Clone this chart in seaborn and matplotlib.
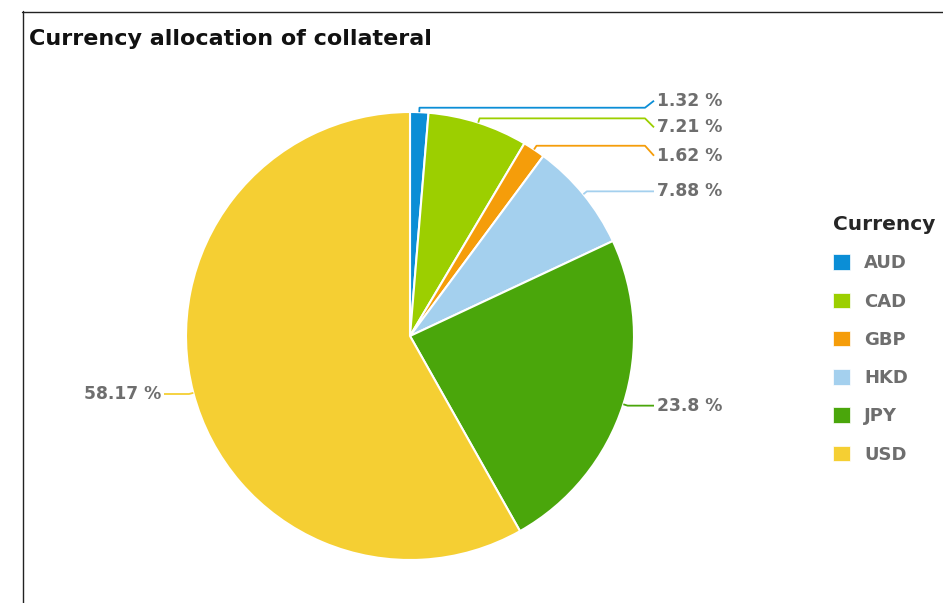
import matplotlib
matplotlib.use("Agg")
import matplotlib.pyplot as plt
from matplotlib.patches import Patch
import numpy as np
import seaborn as sns

currencies = ["AUD", "CAD", "GBP", "HKD", "JPY", "USD"]
shares = [1.32, 7.21, 1.62, 7.88, 23.8, 58.17]
colors = ["#0b8ed6", "#9ccf00", "#f59d0a", "#a4d0ee", "#4aa60b", "#f5cf33"]
title = "Currency allocation of collateral"
legend_title = "Currency"

sns.set_theme(style="white")
plt.rcParams["font.family"] = ["DejaVu Sans"]

W, H = 943, 603
fig = plt.figure(figsize=(W / 100, H / 100), dpi=100)
ax = fig.add_axes([0, 0, 1, 1])

def Y(y):
    return H - y

cx, cy, R = 410, Y(336), 224
wedges, _ = ax.pie(shares, colors=colors, startangle=90, counterclock=False,
                   center=(cx, cy), radius=R,
                   wedgeprops=dict(edgecolor="white", linewidth=1.5))
ax.set_xlim(0, W)
ax.set_ylim(0, H)
ax.set_aspect("equal")
ax.axis("off")

# leader lines and labels (layout offsets for the crowded top labels)
label_dy = [-7, 9, 10, 0, 0, 0]
for w, v, col, dy in zip(wedges, shares, colors, label_dy):
    mid = np.deg2rad((w.theta1 + w.theta2) / 2)
    ex, ey = cx + R * np.cos(mid), cy + R * np.sin(mid)
    bx, by = cx + R * 1.02 * np.cos(mid), cy + R * 1.02 * np.sin(mid)
    ly = by - dy
    txt = f"{v:g} %"
    if np.cos(mid) >= 0:
        lx = 657
        xs = [ex, bx, lx - 12, lx - 3]
        ys = [ey, by, by, ly]
        ha = "left"
    else:
        lx = 161
        xs = [ex, bx, lx + 3]
        ys = [ey, by, by]
        ha = "right"
    ax.plot(xs, ys, color=col, lw=1.3, solid_capstyle="butt")
    ax.text(lx, ly, txt, ha=ha, va="center", fontsize=12.3, fontweight="bold",
            color="#6e6e6e")

# frame lines
ax.plot([22, W], [Y(11.5), Y(11.5)], color="#222222", lw=1.0)
ax.plot([22.5, 22.5], [Y(11), 0], color="#222222", lw=1.0)

fig.text(29 / W, 1 - 39 / H, title, ha="left", va="center", fontsize=16,
         fontweight="bold", color="#111111")

handles = [Patch(facecolor=c, edgecolor="white", lw=0.5) for c in colors]
leg = fig.legend(handles, currencies, title=legend_title, loc="upper left",
                 bbox_to_anchor=(826 / W, 1 - 208 / H), frameon=False,
                 fontsize=13, labelcolor="#6e6e6e", handlelength=0.95,
                 handleheight=0.95, handletextpad=0.75, labelspacing=1.12,
                 alignment="left", borderaxespad=0)
leg.get_title().set_fontweight("bold")
leg.get_title().set_fontsize(14.5)
for t in leg.get_texts():
    t.set_fontweight("bold")

fig.savefig("out.png", dpi=100)
